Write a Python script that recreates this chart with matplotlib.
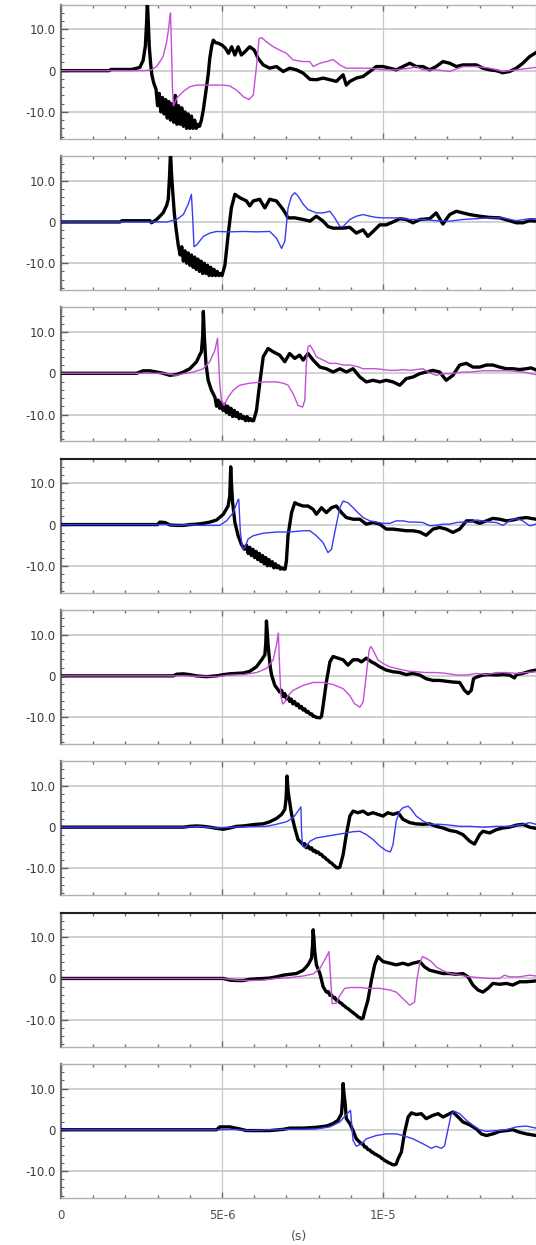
import matplotlib
matplotlib.use("Agg")
import matplotlib.pyplot as plt
from matplotlib.ticker import MultipleLocator, FixedLocator

# ─────────────────────────────────────────────────────────────
# DATA  (time in microseconds, signal value)
# ─────────────────────────────────────────────────────────────
# panel 1
t1b = [0, 1.5, 1.55, 2.2, 2.45, 2.55, 2.62, 2.66, 2.68, 2.71, 2.74, 2.78, 2.82, 2.88,
       2.95, 3.0, 3.05, 3.1, 3.15, 3.2, 3.25, 3.3, 3.35, 3.4, 3.45, 3.5, 3.55, 3.6, 3.65, 3.7,
       3.75, 3.8, 3.85, 3.9, 3.95, 4.0, 4.05, 4.1, 4.15, 4.2, 4.25, 4.3,
       4.36, 4.42, 4.5, 4.57, 4.62, 4.68, 4.73, 4.8, 4.9, 5.0, 5.1, 5.2, 5.3, 5.4, 5.5, 5.6, 5.7,
       5.86, 6.0, 6.12, 6.28, 6.48, 6.69, 6.9, 7.1, 7.31, 7.52, 7.73, 7.93, 8.14, 8.35, 8.55,
       8.76, 8.86, 8.97, 9.17, 9.38, 9.59, 9.79, 10.0, 10.21, 10.41, 10.62, 10.83, 11.03, 11.24,
       11.45, 11.65, 11.86, 12.07, 12.28, 12.48, 12.69, 12.9, 13.1, 13.31, 13.52, 13.72, 13.93,
       14.14, 14.34, 14.55, 14.75]
v1b = [0, 0, 0.3, 0.3, 0.8, 2.5, 6, 12, 17, 12, 6, 2, -1, -3,
       -4.5, -8.5, -5.5, -10, -6.5, -10.5, -7, -11.5, -7.5, -12, -8, -12.5, -6, -13, -8.5, -13,
       -9, -13.5, -10, -14, -10.5, -14, -11, -14, -12, -14, -13, -13.5,
       -12, -9.5, -5, -1, 3, 6, 7.4, 6.8, 6.6, 6.2, 5.5, 4.2, 5.8, 3.8, 5.8, 3.8, 4.5,
       5.8, 5.0, 3.0, 1.4, 0.6, 1.0, -0.2, 0.6, 0.2, -0.6, -2.1, -2.2, -1.8, -2.2, -2.6,
       -1.0, -3.5, -2.6, -1.8, -1.4, -0.2, 1.0, 1.0, 0.6, 0.2, 1.0, 1.8, 1.0, 1.0,
       0.2, 1.0, 2.2, 1.8, 1.0, 1.4, 1.4, 1.4, 0.6, 0.2, 0.0, -0.5, -0.2,
       0.6, 1.8, 3.4, 4.4]
t1c = [0, 2.6, 2.8, 2.97, 3.17, 3.28, 3.33, 3.38, 3.40, 3.43, 3.46, 3.49, 3.55, 3.59, 3.8,
       4.0, 4.21, 4.62, 5.04, 5.24, 5.45, 5.66, 5.84, 5.97, 6.07, 6.15, 6.23, 6.38, 6.59, 6.79,
       7.0, 7.21, 7.52, 7.73, 7.83, 8.04, 8.24, 8.45, 8.66, 8.86, 9.17, 9.59, 10.0, 10.41,
       10.83, 11.03, 11.24, 11.65, 12.07, 12.48, 12.9, 13.31, 13.72, 14.14, 14.55, 14.75]
v1c = [0, 0, 0.2, 1, 3.4, 7, 9.5, 13, 14, 6, -4, -8.5, -7.5, -6.7, -5,
       -3.9, -3.5, -3.5, -3.5, -3.7, -4.7, -6.3, -7, -5.9, 1, 7.8, 8, 7, 5.8, 5,
       4.2, 2.6, 2.2, 2.2, 1.0, 1.8, 2.2, 2.7, 1.4, 0.6, 0.6, 0.6, 0.2, 0.2,
       0.6, 1.0, 0.2, 0.2, -0.2, 1.0, 1.0, 0.6, -0.2, 0.2, 0.6, 0.8]

# panel 2
t2b = [0, 1.83, 1.9, 2.76, 2.81, 2.97, 3.17, 3.28, 3.33, 3.37, 3.40, 3.43, 3.46, 3.52, 3.57, 3.64,
       3.7, 3.75, 3.8, 3.85, 3.9, 3.95, 4.0, 4.05, 4.1, 4.15, 4.2, 4.25, 4.3, 4.35, 4.4, 4.45,
       4.5, 4.55, 4.6, 4.65, 4.7, 4.75, 4.8, 4.85, 4.9, 4.95, 5.0,
       5.09, 5.19, 5.29, 5.4, 5.55, 5.76, 5.86, 5.97, 6.17, 6.33, 6.48, 6.69, 6.9, 7.05, 7.26,
       7.52, 7.73, 7.93, 8.14, 8.29, 8.45, 8.76, 8.97, 9.17, 9.38, 9.53, 9.69, 9.9, 10.1, 10.31,
       10.52, 10.72, 10.93, 11.14, 11.45, 11.65, 11.86, 12.07, 12.28, 12.48, 12.69, 13.0, 13.31,
       13.62, 13.93, 14.14, 14.34, 14.55, 14.75]
v2b = [0, 0, 0.3, 0.3, -0.2, 0.6, 2.2, 4, 5.5, 11, 17, 12, 8.4, 2, -1.5, -5.6,
       -8, -6, -9.5, -7, -10, -7.5, -10.5, -8, -11, -8.5, -11.5, -9, -12, -9.5, -12.5, -10,
       -12.5, -10.5, -13, -11, -13, -11.5, -13, -12, -13, -12.5, -13,
       -10.5, -3.1, 3.4, 6.7, 5.9, 5.1, 3.9, 5.1, 5.5, 3.4, 5.5, 5.1, 3.0, 1.0, 1.0,
       0.6, 0.2, 1.4, 0.2, -1.1, -1.5, -1.5, -1.3, -2.7, -1.9, -3.5, -2.3, -0.7, -0.7, 0,
       0.8, 0.6, -0.2, 0.6, 0.8, 2.2, -0.5, 1.8, 2.6, 2.2, 1.8, 1.4, 1.1,
       1.0, 0.3, -0.2, -0.2, 0.3, 0.2]
t2c = [0, 3.28, 3.59, 3.8, 3.95, 4.05, 4.09, 4.13, 4.21, 4.42, 4.62, 4.83, 5.24, 5.66, 6.07,
       6.48, 6.69, 6.85, 6.95, 7.05, 7.16, 7.26, 7.36, 7.52, 7.67, 7.93, 8.14, 8.35, 8.5, 8.66,
       8.76, 8.97, 9.17, 9.38, 9.59, 9.79, 10.0, 10.41, 10.83, 11.24, 11.65, 12.07, 12.48, 12.9,
       13.31, 13.72, 14.14, 14.55, 14.75]
v2c = [0, 0, 0.6, 1.8, 4.3, 6.7, 1, -6, -5.6, -3.5, -2.7, -2.3, -2.4, -2.3, -2.4,
       -2.3, -3.9, -6.4, -4.7, 3.4, 6.3, 7.1, 6.3, 4.3, 3.0, 2.2, 2.2, 2.6, 1.0, -1.1,
       -1.1, 0.6, 1.4, 1.8, 1.4, 1.1, 1.0, 1.0, 0.6, 0.6, 0.3, 0.2, 0.6, 0.8,
       1.0, 1.0, 0.3, 0.8, 0.8]

# panel 3
t3b = [0, 2.35, 2.55, 2.76, 2.97, 3.17, 3.38, 3.59, 3.8, 4.0, 4.21, 4.31, 4.36, 4.40, 4.42, 4.45,
       4.50, 4.57, 4.67, 4.78,
       4.83, 4.88, 4.93, 4.98, 5.03, 5.08, 5.13, 5.18, 5.23, 5.28, 5.33, 5.38, 5.43, 5.48, 5.53,
       5.58, 5.63, 5.68, 5.73, 5.78, 5.83, 5.88, 5.93, 5.98,
       6.07, 6.17, 6.28, 6.43, 6.59, 6.79, 6.95, 7.1, 7.26, 7.41, 7.52, 7.67, 7.83, 8.04, 8.24,
       8.45, 8.66, 8.86, 9.07, 9.28, 9.48, 9.69, 9.9, 10.1, 10.31, 10.52, 10.72, 10.93, 11.14,
       11.34, 11.55, 11.76, 11.96, 12.17, 12.38, 12.59, 12.79, 13.0, 13.21, 13.41, 13.62, 13.83,
       14.03, 14.24, 14.45, 14.6, 14.75]
v3b = [0, 0, 0.6, 0.6, 0.3, 0, -0.5, -0.3, 0.3, 1.1, 2.8, 4.5, 5.2, 9, 15, 9,
       2.4, -1.7, -4.1, -5.8,
       -8, -6.5, -8.5, -7, -9, -7.5, -9.5, -8, -10, -8.5, -10.5, -9, -10.5, -9.5, -11,
       -10, -11, -10.5, -11.5, -10.5, -11.5, -11, -11.5, -11.5,
       -9, -2.5, 4, 6, 5.2, 4.4, 2.8, 4.8, 3.6, 4.4, 3.2, 4.8, 3.2, 1.5, 1.1,
       0.3, 1.1, 0.3, 1.1, -0.9, -2.1, -1.7, -2.1, -1.7, -2.1, -2.9, -1.3, -0.9, -0.1,
       0.3, 0.7, 0.3, -1.7, -0.5, 2.0, 2.4, 1.5, 1.5, 2.0, 2.0, 1.5, 1.1,
       1.1, 0.9, 1.1, 1.3, 0.8]
t3c = [0, 3.2, 3.59, 3.8, 4.11, 4.42, 4.62, 4.78, 4.86, 4.93, 4.98, 5.06, 5.19, 5.35, 5.55,
       5.86, 6.28, 6.69, 6.9, 7.05, 7.21, 7.36, 7.5, 7.57, 7.62, 7.67, 7.73, 7.83, 7.93, 8.14,
       8.35, 8.55, 8.76, 8.97, 9.17, 9.38, 9.59, 9.79, 10.0, 10.21, 10.41, 10.62, 10.83, 11.03,
       11.24, 11.45, 11.65, 11.86, 12.07, 12.28, 12.48, 12.69, 13.1, 13.52, 13.93, 14.34, 14.75]
v3c = [0, 0, -0.5, -0.1, 0.3, 1.1, 2.8, 5.6, 8.5, -2.5, -6.6, -7.8, -5.8, -4.1, -2.9,
       -2.4, -2.1, -2.1, -2.4, -2.9, -5.0, -7.8, -8.2, -6.6, 2.4, 6.4, 6.8, 5.6, 4.0, 3.2,
       2.4, 2.4, 2.0, 2.0, 1.7, 1.1, 1.1, 1.1, 0.9, 0.7, 0.7, 0.9, 0.7, 0.9,
       1.1, 0.1, -0.5, -0.1, -0.1, 0.1, 0.3, 0.3, 0.6, 0.6, 0.6, 0.3, -0.3]

# panel 4
t4b = [0, 3.0, 3.07, 3.23, 3.38, 3.59, 3.8, 4.0, 4.21, 4.42, 4.62, 4.83, 5.04, 5.19, 5.24, 5.27,
       5.30, 5.33, 5.40, 5.50, 5.60, 5.70,
       5.76, 5.81, 5.86, 5.91, 5.96, 6.01, 6.06, 6.11, 6.16, 6.21, 6.26, 6.31, 6.36, 6.41, 6.46,
       6.51, 6.56, 6.61, 6.66, 6.71, 6.76, 6.81, 6.86, 6.91, 6.96,
       7.0, 7.05, 7.16, 7.26, 7.36, 7.52, 7.67, 7.83, 7.93, 8.09, 8.24, 8.4, 8.55, 8.71, 8.86,
       9.07, 9.28, 9.48, 9.69, 9.9, 10.1, 10.31, 10.52, 10.72, 10.93, 11.14, 11.34, 11.55, 11.76,
       11.96, 12.17, 12.38, 12.59, 12.79, 13.0, 13.21, 13.41, 13.62, 13.83, 14.03, 14.24, 14.45,
       14.75]
v4b = [0, 0, 0.6, 0.5, -0.1, -0.2, -0.2, 0, 0.1, 0.3, 0.6, 1.1, 2.5, 4.5, 6.9, 14,
       9, 5.3, 0.5, -2.7, -4.8, -6,
       -5, -7, -5.5, -7.5, -6, -8, -6.5, -8.5, -7, -9, -7.5, -9.5, -8, -10, -8.5,
       -10, -9, -10.5, -9.5, -10.5, -10, -10.8, -10.5, -10.8, -10.8,
       -8.8, -2.7, 2.9, 5.3, 4.9, 4.5, 4.5, 3.7, 2.5, 4.1, 2.9, 4.1, 4.5, 2.9, 1.7,
       1.3, 1.3, 0.1, 0.5, 0.1, -1.1, -1.1, -1.3, -1.5, -1.5, -1.8, -2.6, -1.1, -0.7,
       -1.1, -1.9, -1.1, 0.9, 0.9, 0.3, 0.9, 1.5, 1.3, 0.9, 1.1, 1.5, 1.7,
       1.3]
t4c = [0, 3.28, 3.59, 4.0, 4.31, 4.62, 4.93, 5.14, 5.35, 5.5, 5.52, 5.57, 5.64, 5.71, 5.81,
       5.97, 6.28, 6.69, 7.1, 7.52, 7.73, 7.93, 8.14, 8.29, 8.4, 8.5, 8.66, 8.76, 8.91, 9.07,
       9.22, 9.38, 9.59, 9.79, 10.0, 10.21, 10.41, 10.62, 10.83, 11.03, 11.24, 11.45, 11.65,
       11.86, 12.07, 12.28, 12.48, 12.69, 12.9, 13.1, 13.31, 13.52, 13.72, 13.93, 14.14, 14.34,
       14.55, 14.75]
v4c = [0, 0, -0.2, 0, -0.2, -0.2, -0.2, 0.9, 2.9, 6.1, 6.1, -1.9, -6.0, -5.6, -3.5,
       -2.7, -2.1, -1.8, -1.8, -1.5, -1.5, -2.7, -4.4, -6.8, -6.0, -1.9, 4.1, 5.7, 5.3, 4.1,
       2.9, 1.7, 0.9, 0.6, 0.3, 0.3, 0.9, 0.9, 0.6, 0.6, 0.5, -0.3, -0.2,
       0.1, 0.1, 0.5, 0.6, 0.6, 1.1, 0.9, 0.6, 0.5, -0.2, 0.9, 1.5, 0.9,
       -0.3, 0.1]

# panel 5
t5b = [0, 3.49, 3.59, 3.8, 4.0, 4.21, 4.52, 4.83, 5.04, 5.24, 5.45, 5.66, 5.86, 6.07, 6.23,
       6.33, 6.36, 6.38, 6.41, 6.43, 6.5, 6.54, 6.64, 6.79,
       6.85, 6.9, 6.95, 7.0, 7.05, 7.1, 7.15, 7.2, 7.25, 7.31, 7.36, 7.41, 7.46, 7.52, 7.57,
       7.62, 7.67, 7.73, 7.78, 7.83, 7.88, 7.93, 7.98, 8.04, 8.09,
       8.14, 8.24, 8.35, 8.45, 8.6, 8.76, 8.91, 9.07, 9.22, 9.33, 9.48, 9.64, 9.74, 9.9, 10.1,
       10.31, 10.52, 10.72, 10.93, 11.14, 11.34, 11.55, 11.76, 11.96, 12.17, 12.38, 12.53,
       12.64, 12.74, 12.81, 12.9, 13.1, 13.31, 13.52, 13.72, 13.93, 14.08, 14.14, 14.34, 14.55,
       14.75]
v5b = [0, 0, 0.4, 0.5, 0.3, 0, -0.2, 0, 0.3, 0.5, 0.6, 0.7, 1.1, 2.2, 3.9,
       5.1, 8, 13.3, 10, 7.5, 2, 0.2, -2.3, -3.9,
       -3.5, -5, -4.3, -5.6, -5, -6.2, -5.6, -6.8, -6.2, -7.2, -6.8, -7.8, -7.4, -8.3, -8,
       -8.8, -8.6, -9.3, -9.2, -9.8, -9.8, -10.1, -10.1, -10.2, -9.8,
       -7.2, -1.5, 3.4, 4.7, 4.3, 3.9, 2.6, 3.9, 3.9, 3.4, 4.3, 3.4, 3.0, 2.2, 1.4,
       1.0, 0.8, 0.3, 0.6, 0.2, -0.7, -1.1, -1.1, -1.3, -1.5, -1.6, -3.5,
       -4.3, -3.5, -0.7, -0.3, 0.2, 0.3, 0.2, 0.3, 0.2, -0.5, 0.3, 0.6, 1.1,
       1.4]
t5c = [0, 3.8, 4.31, 4.83, 5.24, 5.66, 6.07, 6.38, 6.59, 6.69, 6.75, 6.79, 6.83, 6.88, 6.95,
       7.05, 7.21, 7.52, 7.83, 8.14, 8.45, 8.76, 8.97, 9.12, 9.28, 9.38, 9.48, 9.57, 9.62, 9.69,
       9.84, 10.0, 10.21, 10.52, 10.83, 11.03, 11.34, 11.65, 11.96, 12.28, 12.59, 12.9, 13.21,
       13.52, 13.83, 14.14, 14.45, 14.75]
v5c = [0, 0, -0.1, -0.2, 0.2, 0.3, 0.8, 1.8, 3.9, 7.5, 10.4, 1.8, -4.8, -6.8, -6.4,
       -4.8, -3.5, -2.3, -1.6, -1.6, -2.1, -3.1, -4.8, -6.8, -7.6, -6.4, 0.2, 6.3, 7.1, 6.3,
       3.9, 3.0, 2.2, 1.6, 1.1, 1.0, 0.8, 0.8, 0.6, 0.2, 0.2, 0.6, 0.3,
       0.8, 0.8, 0.6, 0.8, 1.0]

# panel 6
t6b = [0, 3.8, 4.0, 4.21, 4.42, 4.62, 4.83, 5.04, 5.24, 5.45, 5.66, 5.86, 6.07, 6.28, 6.48,
       6.69, 6.85, 6.95, 6.99, 7.02, 7.05, 7.08, 7.16, 7.26, 7.36, 7.52,
       7.57, 7.62, 7.67, 7.73, 7.78, 7.83, 7.88, 7.93, 7.98, 8.04, 8.09, 8.14, 8.19, 8.24, 8.29,
       8.35, 8.4, 8.45, 8.5, 8.55, 8.6, 8.66,
       8.76, 8.86, 8.97, 9.07, 9.22, 9.38, 9.53, 9.69, 9.84, 10.0, 10.15, 10.31, 10.47, 10.62,
       10.83, 11.03, 11.24, 11.45, 11.65, 11.86, 12.07, 12.28, 12.48, 12.69, 12.84, 13.0, 13.1,
       13.31, 13.52, 13.72, 13.93, 14.14, 14.34, 14.55, 14.75]
v6b = [0, 0, 0.2, 0.3, 0.2, 0, -0.3, -0.5, -0.2, 0.2, 0.3, 0.5, 0.7, 0.8, 1.3,
       2.1, 3.1, 4.3, 7, 12.4, 9, 7.2, 3.1, -0.2, -3.0, -4.2,
       -4, -5, -4.5, -5.3, -5, -5.8, -5.6, -6.2, -6, -6.6, -6.6, -7.2, -7.3, -7.8, -8,
       -8.5, -8.7, -9.1, -9.4, -9.8, -9.9, -9.7,
       -6.7, -1.8, 2.7, 3.9, 3.5, 3.9, 3.1, 3.5, 3.1, 2.7, 3.5, 3.1, 3.5, 1.9,
       1.1, 0.8, 0.7, 0.8, 0.2, -0.2, -0.8, -1.1, -1.8, -3.4, -4.1, -1.8, -1.0,
       -1.4, -0.6, -0.2, 0, 0.5, 0.7, 0, -0.3]
t6c = [0, 3.8, 4.31, 4.83, 5.35, 5.86, 6.38, 6.69, 7.0, 7.21, 7.36, 7.45, 7.47, 7.5, 7.57,
       7.73, 7.93, 8.24, 8.55, 8.86, 9.07, 9.28, 9.48, 9.69, 9.9, 10.1, 10.23, 10.31, 10.41,
       10.52, 10.62, 10.78, 10.88, 11.03, 11.24, 11.45, 11.76, 12.07, 12.38, 12.69, 13.1, 13.52,
       13.93, 14.34, 14.55, 14.75]
v6c = [0, 0, 0.2, -0.2, 0, 0.1, 0.2, 0.7, 1.3, 2.3, 3.9, 4.9, -1.0, -4.6, -5.0,
       -3.4, -2.6, -2.2, -1.8, -1.4, -1.1, -1.0, -1.8, -3.0, -4.6, -5.7, -6.0, -4.2, 1.5,
       3.9, 4.7, 5.1, 4.3, 2.7, 1.5, 0.7, 0.7, 0.5, 0.2, 0.2, 0, 0.2,
       0.2, 0.7, 1.1, 0.7]

# panel 7
t7b = [0, 5.04, 5.24, 5.45, 5.66, 5.86, 6.07, 6.28, 6.48, 6.69, 6.9, 7.1, 7.31, 7.52, 7.67,
       7.78, 7.81, 7.83, 7.86, 7.88, 7.93, 8.04, 8.14, 8.24,
       8.3, 8.35, 8.4, 8.45, 8.5, 8.55, 8.6, 8.66, 8.71, 8.76, 8.81, 8.86, 8.91, 8.97, 9.02,
       9.07, 9.12, 9.17, 9.22, 9.28, 9.33, 9.38,
       9.43, 9.53, 9.64, 9.74, 9.84, 10.0, 10.21, 10.41, 10.62, 10.78, 10.93, 11.14, 11.29,
       11.45, 11.65, 11.86, 12.07, 12.28, 12.48, 12.64, 12.79, 12.95, 13.1, 13.26, 13.41,
       13.62, 13.83, 14.03, 14.24, 14.45, 14.75]
v7b = [0, 0, -0.4, -0.5, -0.5, -0.2, -0.1, 0, 0.1, 0.4, 0.8, 1.0, 1.2, 2.0, 3.3,
       4.9, 8, 11.8, 9, 6.5, 3.3, 1.2, -2.0, -3.3,
       -3.2, -4.1, -4, -4.7, -4.6, -5.3, -5.3, -5.9, -6, -6.5, -6.7, -7.1, -7.3, -7.7, -8,
       -8.3, -8.6, -8.9, -9.3, -9.5, -9.8, -9.6,
       -8, -5.3, -0.4, 3.3, 5.3, 4.1, 3.7, 3.3, 3.7, 3.3, 3.7, 4.1, 2.8,
       2.0, 1.6, 1.2, 1.2, 1.0, 1.2, 0.4, -1.6, -2.8, -3.3, -2.4, -1.2,
       -1.4, -1.2, -1.6, -0.8, -0.8, -0.6]
t7c = [0, 5.04, 5.45, 5.86, 6.28, 6.69, 7.1, 7.52, 7.83, 8.04, 8.19, 8.32, 8.37, 8.42, 8.55,
       8.66, 8.81, 8.97, 9.28, 9.59, 9.9, 10.21, 10.41, 10.62, 10.83, 10.98, 11.05, 11.14,
       11.22, 11.34, 11.5, 11.65, 11.86, 12.07, 12.38, 12.69, 13.0, 13.31, 13.62, 13.77, 13.93,
       14.24, 14.55, 14.75]
v7c = [0, 0, -0.4, -0.5, -0.4, 0, 0.2, 0.6, 1.1, 2.4, 4.5, 6.5, 0.4, -6.1, -6.0,
       -4.1, -2.4, -2.2, -2.2, -2.4, -2.4, -2.8, -3.3, -4.9, -6.5, -5.7, -0.4, 3.7,
       5.3, 4.9, 4.1, 2.8, 1.9, 1.2, 0.8, 0.4, 0.2, 0, 0, 0.8, 0.4,
       0.4, 0.8, 0.6]

# panel 8
t8b = [0, 4.83, 4.93, 5.24, 5.55, 5.76, 6.07, 6.48, 6.9, 7.1, 7.52, 7.93, 8.24, 8.45, 8.6,
       8.71, 8.74, 8.76, 8.79, 8.82, 8.86, 8.97, 9.07, 9.17, 9.33,
       9.38, 9.43, 9.48, 9.53, 9.59, 9.64, 9.69, 9.74, 9.79, 9.84, 9.9, 9.95, 10.0, 10.05, 10.1,
       10.15, 10.21, 10.26, 10.31, 10.36, 10.41,
       10.47, 10.57, 10.67, 10.78, 10.88, 11.03, 11.19, 11.34, 11.55, 11.71, 11.86, 12.02,
       12.17, 12.33, 12.48, 12.69, 12.9, 13.05, 13.21, 13.41, 13.62, 13.83, 14.03, 14.24,
       14.45, 14.75]
v8b = [0, 0, 0.7, 0.7, 0.2, -0.2, -0.2, -0.2, 0.1, 0.4, 0.4, 0.6, 0.9, 1.5, 2.3,
       3.9, 7, 11.2, 8.5, 6.7, 2.7, 1.5, -0.2, -2.2, -3.4,
       -3.4, -4.2, -4.2, -4.8, -4.9, -5.4, -5.5, -5.9, -6.0, -6.3, -6.5, -6.9, -7.1, -7.5, -7.6,
       -7.9, -8.1, -8.3, -8.5, -8.5, -8.3,
       -7, -5.4, -0.6, 3.1, 4.1, 3.7, 3.9, 2.7, 3.5, 3.9, 3.1, 3.7,
       4.3, 3.1, 1.9, 1.2, 0.2, -1.0, -1.4, -1.0, -0.4, -0.2, 0, -0.6,
       -1.0, -1.4]
t8c = [0, 4.83, 5.35, 5.86, 6.38, 6.9, 7.41, 7.93, 8.35, 8.66, 8.86, 8.99, 9.02, 9.07, 9.17,
       9.33, 9.48, 9.79, 10.1, 10.41, 10.62, 10.93, 11.24, 11.5, 11.65, 11.81, 11.91, 12.02,
       12.12, 12.22, 12.38, 12.59, 12.79, 13.0, 13.21, 13.52, 13.83, 14.14, 14.45, 14.75]
v8c = [0, 0, 0.1, -0.2, 0, 0.1, 0.1, 0.2, 0.7, 1.9, 3.7, 4.7, 1.9, -2.6, -4.0,
       -3.4, -2.2, -1.4, -1.0, -1.0, -1.4, -2.2, -3.4, -4.5, -4.0, -4.5, -3.9, 0.2,
       3.9, 4.5, 3.9, 2.3, 1.1, 0, -0.4, -0.2, 0, 0.7, 0.9, 0.4]

PANELS = [(t1b, v1b, t1c, v1c), (t2b, v2b, t2c, v2c), (t3b, v3b, t3c, v3c),
          (t4b, v4b, t4c, v4c), (t5b, v5b, t5c, v5c), (t6b, v6b, t6c, v6c),
          (t7b, v7b, t7c, v7c), (t8b, v8b, t8c, v8c)]

Y_TICKS = [-10, 0, 10]
Y_LABELS = ["-10.0", "0", "10.0"]
X_TICKS = [0, 5, 10]
X_LABELS = ["0", "5E-6", "1E-5"]

# ─────────────────────────────────────────────────────────────
# COLORS
# ─────────────────────────────────────────────────────────────
C_BLACK = "#000000"
C_MAG = "#c44fd6"
C_BLUE = "#3b3bf5"
C_GRID = "#c9c9c9"
C_SPINE = "#b0b0b0"
C_TEXT = "#3a3a3a"

# ─────────────────────────────────────────────────────────────
# FIGURE
# ─────────────────────────────────────────────────────────────
W, H = 536, 1245
fig = plt.figure(figsize=(W / 100, H / 100), dpi=100)

left_px = 61
panel_h = 134
pitch = 151.3
top0 = 4.7

for k, (tb, vb, tc, vc) in enumerate(PANELS):
    top = top0 + pitch * k
    ax = fig.add_axes([left_px / W, 1 - (top + panel_h) / H, 1 - left_px / W, panel_h / H])

    col = C_MAG if k % 2 == 0 else C_BLUE
    ax.plot(tb, vb, color=C_BLACK, lw=2.4, solid_joinstyle="round", zorder=3)
    ax.plot(tc, vc, color=col, lw=1.0, zorder=4)

    ax.set_xlim(0, 14.75)
    ax.set_ylim(-16.5, 16)

    # grid
    for y in Y_TICKS:
        ax.axhline(y, color=C_GRID, lw=1.2, zorder=1)
    for x in X_TICKS[1:]:
        ax.axvline(x, color=C_GRID, lw=0.9, zorder=1)

    # ticks
    ax.yaxis.set_major_locator(FixedLocator(Y_TICKS))
    ax.yaxis.set_minor_locator(MultipleLocator(2))
    ax.set_yticklabels(Y_LABELS)
    ax.tick_params(axis="y", which="major", direction="in", length=5, width=1,
                   color="#606060", labelsize=8.5, labelcolor=C_TEXT, pad=4)
    ax.tick_params(axis="y", which="minor", direction="in", length=2.5, width=0.8,
                   color="#606060")
    ax.tick_params(axis="y", which="both", right=False)

    ax.xaxis.set_major_locator(FixedLocator(X_TICKS))
    ax.xaxis.set_minor_locator(MultipleLocator(1))
    ax.tick_params(axis="x", which="both", direction="in", top=True, bottom=True,
                   color="#707070")
    ax.tick_params(axis="x", which="major", length=4, width=1)
    ax.tick_params(axis="x", which="minor", length=2.5, width=1)
    if k == len(PANELS) - 1:
        ax.set_xticklabels(X_LABELS)
        ax.tick_params(axis="x", labelsize=8.5, labelcolor="#505050", pad=8)
        ax.set_xlabel("(s)", fontsize=9, color="#505050", labelpad=6)
    else:
        ax.set_xticklabels([])

    # frame
    for side in ("top", "bottom", "right"):
        ax.spines[side].set_color(C_SPINE)
        ax.spines[side].set_linewidth(1.0)
    ax.spines["left"].set_color("#707070")
    ax.spines["left"].set_linewidth(1.6)
    if k in (3, 6):
        ax.spines["top"].set_color("#202020")
        ax.spines["top"].set_linewidth(1.5)

fig.savefig("out.png", dpi=100)
